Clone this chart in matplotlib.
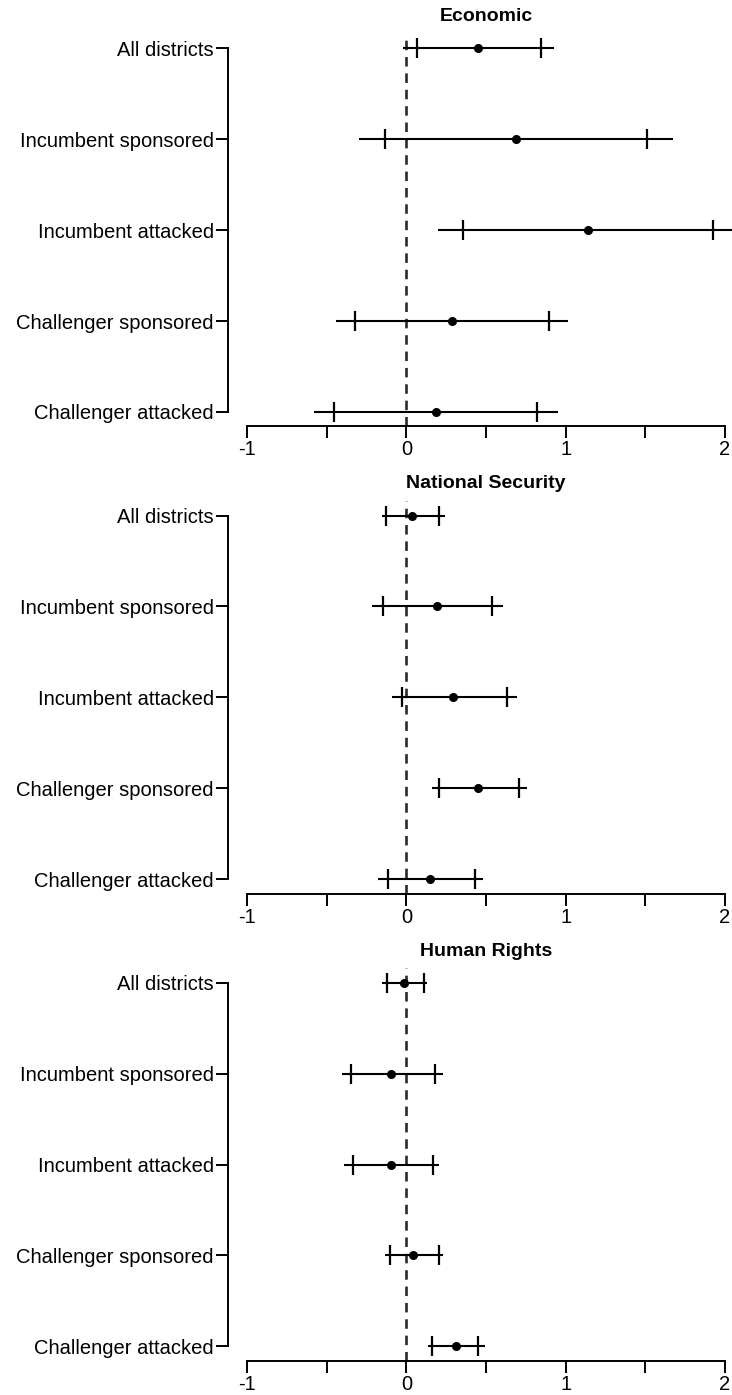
import numpy as np
import matplotlib
matplotlib.use("Agg")
import matplotlib.pyplot as plt


labels = ["All districts", "Incumbent sponsored", "Incumbent attacked",
          "Challenger sponsored", "Challenger attacked"]

titles = ["Economic", "National Security", "Human Rights"]

# Economic
econ_est = [0.448, 0.687, 1.138, 0.285, 0.184]
econ_lo90 = [0.065, -0.137, 0.354, -0.325, -0.455]
econ_hi90 = [0.845, 1.511, 1.925, 0.893, 0.820]
econ_lo95 = [-0.020, -0.300, 0.201, -0.445, -0.580]
econ_hi95 = [0.925, 1.675, 2.075, 1.013, 0.950]

# National Security
nat_est = [0.032, 0.194, 0.294, 0.448, 0.145]
nat_lo90 = [-0.128, -0.149, -0.025, 0.203, -0.114]
nat_hi90 = [0.203, 0.540, 0.630, 0.704, 0.429]
nat_lo95 = [-0.153, -0.217, -0.089, 0.160, -0.180]
nat_hi95 = [0.241, 0.608, 0.694, 0.757, 0.480]

# Human Rights
hr_est = [-0.015, -0.094, -0.094, 0.043, 0.310]
hr_lo90 = [-0.125, -0.351, -0.338, -0.106, 0.162]
hr_hi90 = [0.113, 0.177, 0.165, 0.205, 0.450]
hr_lo95 = [-0.153, -0.402, -0.392, -0.132, 0.135]
hr_hi95 = [0.130, 0.228, 0.205, 0.231, 0.492]

xticks = [-1, -0.5, 0, 0.5, 1, 1.5, 2]
xticklabels = ["-1", "", "0", "", "1", "", "2"]

W, H = 732, 1395


def panel(fig, k, title, est, lo90, hi90, lo95, hi95):
    unit_y = 90.9
    row0 = 48.3 + 467.2 * k
    top = row0 - 0.16 * unit_y
    height = 4.32 * unit_y
    left = 228
    width = 3.24 * 159.3
    ax = fig.add_axes([left / W, 1 - (top + height) / H, width / W, height / H])

    y = np.arange(len(labels))
    ax.axvline(0, color="#2a2a2a", lw=1.9, ls=(0, (3.6, 2.6)), zorder=0)
    ax.hlines(y, lo95, hi95, color="black", lw=1.5)
    ax.plot(lo90, y, "|", ms=15, mew=1.6, color="black")
    ax.plot(hi90, y, "|", ms=15, mew=1.6, color="black")
    ax.plot(est, y, "o", ms=5.5, color="black")

    ax.set_xlim(-1.12, 2.12)
    ax.set_ylim(4.16, -0.16)
    ax.set_yticks(y)
    ax.set_yticklabels(labels, fontsize=14.5)
    ax.set_xticks(xticks)
    ax.set_xticklabels(xticklabels, fontsize=14.5)

    for s in ["top", "right"]:
        ax.spines[s].set_visible(False)
    ax.spines["left"].set_bounds(0, 4)
    ax.spines["bottom"].set_bounds(-1, 2)
    ax.spines["left"].set_linewidth(1.4)
    ax.spines["bottom"].set_linewidth(1.4)
    ax.tick_params(axis="y", length=8.3, width=1.4, pad=2)
    ax.tick_params(axis="x", length=8.6, width=1.4, pad=1.5)

    ax.text(0.5, 1 + 17 / height, title, transform=ax.transAxes,
            ha="center", va="center", fontsize=14, fontweight="bold")


def main():
    plt.rcParams["font.family"] = ["Liberation Sans", "DejaVu Sans"]
    fig = plt.figure(figsize=(W / 100, H / 100), dpi=100)

    panel(fig, 0, titles[0], econ_est, econ_lo90, econ_hi90, econ_lo95, econ_hi95)
    panel(fig, 1, titles[1], nat_est, nat_lo90, nat_hi90, nat_lo95, nat_hi95)
    panel(fig, 2, titles[2], hr_est, hr_lo90, hr_hi90, hr_lo95, hr_hi95)

    fig.savefig("out.png", dpi=100)


if __name__ == "__main__":
    main()
